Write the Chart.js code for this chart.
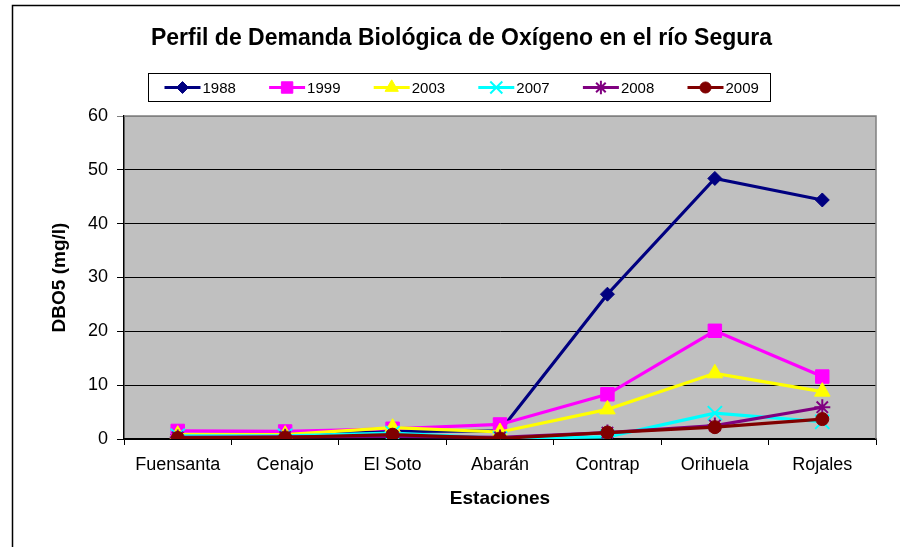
<!DOCTYPE html>
<html>
<head>
<meta charset="utf-8">
<script src="https://cdn.jsdelivr.net/npm/chart.js@4.4.1/dist/chart.umd.min.js"></script>
<style>
  html, body { margin: 0; padding: 0; background: #fff; }
  #wrap { width: 900px; height: 547px; position: relative; }
</style>
</head>
<body>
<div id="wrap"><canvas id="c" width="900" height="547"></canvas></div>
<script>
// Estaciones de muestreo a lo largo del río
const estaciones = ['Fuensanta', 'Cenajo', 'El Soto', 'Abarán', 'Contrap', 'Orihuela', 'Rojales'];
const years = ['1988', '1999', '2003', '2007', '2008', '2009'];

// DBO5 (mg/l) por estación
const dbo1988 = [0.8, 0.9, 1.4, 1.5, 26.9, 48.4, 44.4];
const dbo1999 = [1.5, 1.4, 1.9, 2.7, 8.3, 20.1, 11.6];
const dbo2003 = [0.8, 0.8, 2.1, 1.3, 5.5, 12.2, 8.8];
const dbo2007 = [0.6, 0.6, 1.1, 0.1, 0.4, 4.8, 3.2];
const dbo2008 = [0.3, 0.4, 0.5, 0.3, 1.2, 2.5, 5.9];
const dbo2009 = [0.2, 0.3, 0.8, 0.1, 1.2, 2.2, 3.7];
const seriesValues = [dbo1988, dbo1999, dbo2003, dbo2007, dbo2008, dbo2009];

const yTicks = [0, 10, 20, 30, 40, 50, 60];

/* estilo tipo Excel */
const lineColors = ['#000080', '#ff00ff', '#ffff00', '#00ffff', '#800080', '#800000'];
const markers = ['rectRot', 'rect', 'triangle', 'crossRot', 'star', 'circle'];
const markerSizes = [7, 9.5, 9, 10, 8, 6.5];
const FONT = "'Liberation Sans', Arial, sans-serif";

const datasets = years.map((y, i) => {
    const stroked = markers[i] === 'crossRot' || markers[i] === 'star';
    return {
        label: y,
        data: seriesValues[i],
        borderColor: lineColors[i],
        backgroundColor: lineColors[i],
        borderWidth: 3.2,
        pointStyle: markers[i],
        pointRadius: markerSizes[i],
        pointBackgroundColor: lineColors[i],
        pointBorderColor: lineColors[i],
        pointBorderWidth: stroked ? 2 : 1,
        tension: 0,
        order: years.length - i, // 2009 queda encima, como en Excel
    };
});

/** fondo, marco exterior y área gris del gráfico */
const framePlugin = {
    id: 'frame',
    beforeDraw(chart) {
        const { ctx, chartArea: a } = chart;
        ctx.save();
        ctx.fillStyle = '#fff';
        ctx.fillRect(0, 0, chart.width, chart.height);
        ctx.strokeStyle = '#000';
        ctx.lineWidth = 1.5;
        ctx.beginPath();
        ctx.moveTo(12.5, chart.height + 5);
        ctx.lineTo(12.5, 5.5);
        ctx.lineTo(chart.width + 5, 5.5);
        ctx.stroke();
        ctx.fillStyle = '#c0c0c0';
        ctx.fillRect(a.left, a.top, a.right - a.left, a.bottom - a.top);
        ctx.restore();
    },
    beforeDatasetsDraw(chart) {
        const { ctx, chartArea: a } = chart;
        ctx.save();
        ctx.strokeStyle = '#808080';
        ctx.lineWidth = 1.5;
        ctx.beginPath();
        ctx.moveTo(a.left, a.top);
        ctx.lineTo(a.right, a.top);
        ctx.lineTo(a.right, a.bottom);
        ctx.stroke();
        ctx.restore();
    },
};

/** leyenda con línea + marcador dentro de un recuadro */
const legendBoxPlugin = {
    id: 'legendBox',
    afterDraw(chart) {
        const { ctx } = chart;
        ctx.save();
        ctx.strokeStyle = '#000';
        ctx.lineWidth = 1;
        ctx.strokeRect(148.5, 73.5, 622, 28);
        const cy = 87.5;
        chart.data.datasets.forEach((ds, i) => {
            const x0 = 164.5 + i * 104.6;
            ctx.strokeStyle = ds.borderColor;
            ctx.lineWidth = 3.2;
            ctx.beginPath();
            ctx.moveTo(x0, cy);
            ctx.lineTo(x0 + 36, cy);
            ctx.stroke();
            ctx.fillStyle = ds.pointBackgroundColor;
            ctx.strokeStyle = ds.pointBorderColor;
            ctx.lineWidth = ds.pointBorderWidth;
            Chart.helpers.drawPoint(ctx, {
                pointStyle: ds.pointStyle,
                radius: ds.pointRadius * 0.85,
                rotation: 0,
                borderWidth: ds.pointBorderWidth,
            }, x0 + 18, cy);
            ctx.fillStyle = '#000';
            ctx.font = '15px ' + FONT;
            ctx.textBaseline = 'middle';
            ctx.textAlign = 'left';
            ctx.fillText(ds.label, x0 + 38, cy + 1);
        });
        ctx.restore();
    },
};

new Chart(document.getElementById('c'), {
    type: 'line',
    data: { labels: estaciones, datasets },
    options: {
        responsive: false,
        animation: false,
        layout: { padding: { left: 47, right: 24, top: 0, bottom: 0 } },
        plugins: {
            legend: { display: false },
            tooltip: { enabled: false },
            title: {
                display: true,
                text: 'Perfil de Demanda Biológica de Oxígeno en el río Segura',
                color: '#000',
                font: { family: FONT, size: 23, weight: 'bold' },
                padding: { top: 25, bottom: 63.4 },
            },
        },
        scales: {
            x: {
                offset: true,
                afterFit: (scale) => { scale.height = 108; },
                grid: {
                    display: true,
                    drawOnChartArea: false,
                    drawTicks: true,
                    tickLength: 6,
                    color: '#000',
                    offset: true,
                },
                border: { display: true, color: '#000', width: 1.5 },
                ticks: {
                    color: '#000',
                    padding: 9,
                    maxRotation: 0,
                    autoSkip: false,
                    font: { family: FONT, size: 18 },
                },
                title: {
                    display: true,
                    text: 'Estaciones',
                    color: '#000',
                    font: { family: FONT, size: 19, weight: 'bold' },
                    padding: { top: 0, bottom: 36.6 },
                },
            },
            y: {
                min: 0,
                max: 60,
                afterFit: (scale) => { scale.width = 77; },
                afterBuildTicks: (scale) => { scale.ticks = yTicks.map((v) => ({ value: v })); },
                grid: {
                    color: (c) => (c.tick && c.tick.value === 60 ? '#808080' : '#000'),
                    lineWidth: 1,
                    tickLength: 7,
                    drawTicks: true,
                },
                border: { display: true, color: '#000', width: 1.5 },
                ticks: {
                    color: '#000',
                    padding: 9,
                    font: { family: FONT, size: 18 },
                },
                title: {
                    display: true,
                    text: 'DBO5 (mg/l)',
                    color: '#000',
                    font: { family: FONT, size: 19, weight: 'bold' },
                    padding: { top: 1.6, bottom: 0 },
                },
            },
        },
    },
    plugins: [framePlugin, legendBoxPlugin],
});
</script>
</body>
</html>
